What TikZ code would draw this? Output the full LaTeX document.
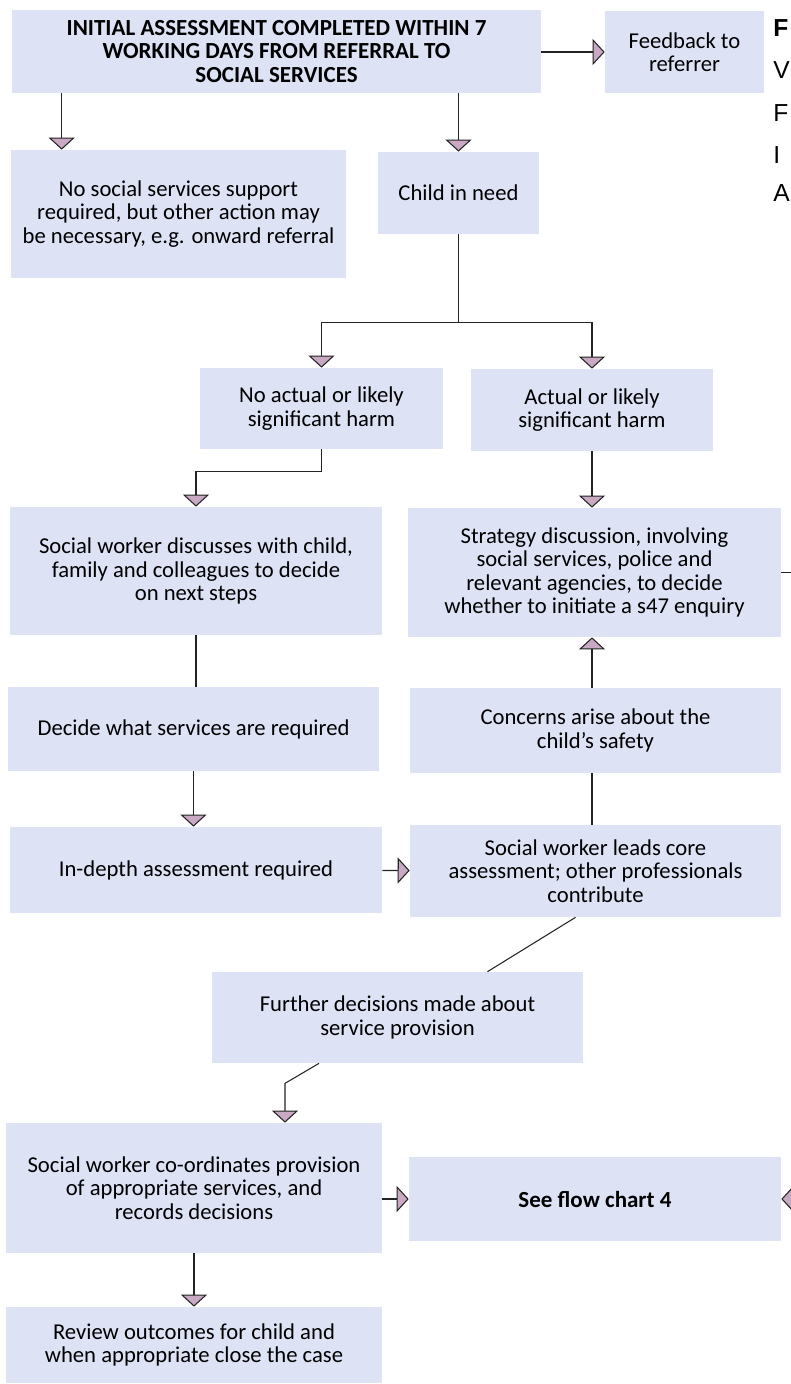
\documentclass[tikz,border=0pt]{standalone}
\usepackage{fontspec}
\setmainfont{Carlito}
\newfontfamily\cutfont{Liberation Sans}
\usetikzlibrary{arrows.meta}
\definecolor{boxfill}{RGB}{222,226,245}
\definecolor{tipfill}{RGB}{200,168,194}
\definecolor{linegray}{RGB}{35,35,35}

\begin{document}
\begin{tikzpicture}[
  x=0.02cm, y=-0.02cm,
  font=\fontsize{12.9}{13.4}\selectfont,
  box/.style={fill=boxfill, align=center, inner sep=2pt},
  head/.style={box, font=\fontsize{13.1}{13.6}\selectfont\bfseries},
  arrow/.style={draw=linegray, line width=0.6pt, -{Triangle[width=0.52cm, length=0.24cm, fill=tipfill]}},
  link/.style={draw=linegray, line width=0.6pt},
  cutoff/.style={font=\cutfont\fontsize{14}{15}\selectfont, anchor=west, inner sep=0pt}
]
\useasboundingbox (0,0) rectangle (791,1384);
\clip (0,0) rectangle (791,1384);
\node[head, minimum width=10.58cm, minimum height=1.66cm] (init) at (276.5,51.5) {INITIAL ASSESSMENT COMPLETED WITHIN 7\\WORKING DAYS FROM REFERRAL TO\\SOCIAL SERVICES};
\node[box, minimum width=3.18cm, minimum height=1.64cm] (fb) at (684.5,52) {Feedback to\\referrer};
\node[box, minimum width=6.7cm, minimum height=2.56cm] (nosupport) at (178.5,214) {No social services support\\required, but other action may\\be necessary, e.g. onward referral};
\node[box, minimum width=3.22cm, minimum height=1.64cm] (need) at (458.5,193) {Child in need};
\node[box, minimum width=4.86cm, minimum height=1.62cm] (noharm) at (321.5,408.5) {No actual or likely\\significant harm};
\node[box, minimum width=4.84cm, minimum height=1.64cm] (harm) at (592,410) {Actual or likely\\significant harm};
\node[box, minimum width=7.44cm, minimum height=2.56cm] (discuss) at (196,571) {Social worker discusses with child,\\family and colleagues to decide\\on next steps};
\node[box, minimum width=7.46cm, minimum height=2.58cm] (strategy) at (594.5,572.5) {Strategy discussion, involving\\social services, police and\\relevant agencies, to decide\\whether to initiate a s47 enquiry};
\node[box, minimum width=7.42cm, minimum height=1.68cm] (decide) at (193.5,729) {Decide what services are required};
\node[box, minimum width=7.42cm, minimum height=1.70cm] (concerns) at (595.5,730.5) {Concerns arise about the\\child’s safety};
\node[box, minimum width=7.44cm, minimum height=1.72cm] (indepth) at (196,870) {In-depth assessment required};
\node[box, minimum width=7.42cm, minimum height=1.84cm] (leads) at (595.5,871) {Social worker leads core\\assessment; other professionals\\contribute};
\node[box, minimum width=7.42cm, minimum height=1.82cm] (further) at (397.5,1017.5) {Further decisions made about\\service provision};
\node[box, minimum width=7.52cm, minimum height=2.6cm] (coord) at (194,1188) {Social worker co-ordinates provision\\of appropriate services, and\\records decisions};
\node[head, minimum width=7.44cm, minimum height=1.68cm] (seefc) at (595,1199) {See flow chart 4};
\node[box, minimum width=7.52cm, minimum height=1.52cm] (review) at (194,1345) {Review outcomes for child and\\when appropriate close the case};
% letters of the next column, cut by the page edge
\node[cutoff, font=\cutfont\fontsize{14}{15}\selectfont\bfseries] (cut1) at (773,28) {F};
\node[cutoff] (cut2) at (773,70) {V};
\node[cutoff] (cut3) at (773,113) {F};
\node[cutoff] (cut4) at (773,155) {I};
\node[cutoff] (cut5) at (773,193) {A};
\coordinate (offstrat) at (800,572.5);
\coordinate (offsee) at (805,1199);
% connectors
\draw[arrow] (init.east |- fb) -- (fb);
\draw[arrow] ([xshift=1cm]init.south west) -- ([xshift=1cm]init.south west |- nosupport.north);
\draw[arrow] (init.south -| need) -- (need);
\draw[link] (need.south) -- ++(0,-1.76cm) coordinate (split);
\draw[arrow] (split) -| (noharm);
\draw[arrow] (split) -| (harm);
\draw[arrow] (noharm.south) -- ++(0,-0.44cm) -| (discuss.north);
\draw[arrow] (harm) -- (harm |- strategy.north);
\draw[link] (discuss.south) -- (discuss.south |- decide.north);
\draw[arrow] (concerns.north -| harm) -- (harm |- strategy.south);
\draw[arrow] (decide.south) -- (decide.south |- indepth.north);
\draw[link] (leads.north -| harm) -- (harm |- concerns.south);
\draw[arrow] (indepth) -- (leads);
\draw[link] ([xshift=-0.4cm]leads.south) -- ([xshift=1.8cm]further.north);
\draw[arrow] ([xshift=-1.57cm]further.south) -- ++(-0.68cm,-0.4cm) -- ([xshift=1.82cm]coord.north);
\draw[arrow] (coord.east |- seefc) -- (seefc);
\draw[arrow] (coord) -- (review);
\draw[link] (strategy.east) -- (offstrat);
\draw[arrow] (offsee) -- (seefc.east);
\end{tikzpicture}
\end{document}
